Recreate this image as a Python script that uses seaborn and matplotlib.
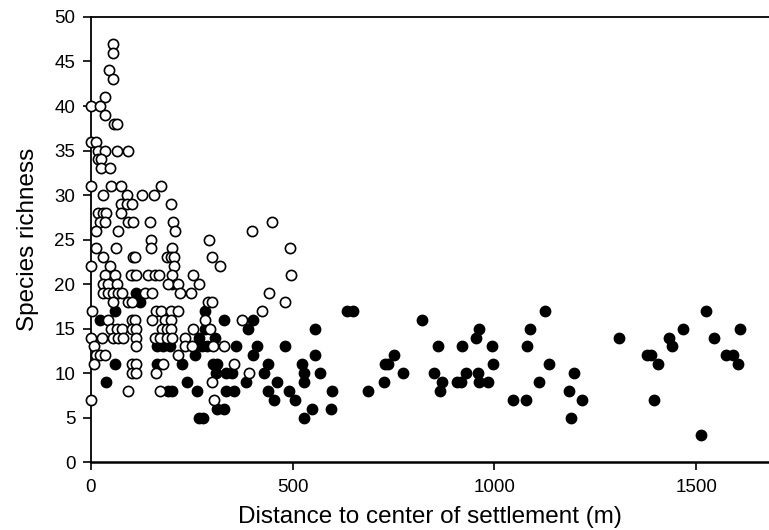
import numpy as np
import pandas as pd
import matplotlib
matplotlib.use("Agg")
import matplotlib.pyplot as plt
import seaborn as sns

# Open circles: distance (m) and species richness
open_x = [55, 55, 45, 55, 35, 0, 22, 35, 58, 65, 0, 12, 18, 35, 64, 93, 18, 25, 26, 47,
          0, 50, 76, 174, 31, 89, 128, 157, 76, 89, 101, 199, 18, 30, 39, 76,
          22, 35, 93, 105, 147, 204, 14, 68, 209, 149, 14, 62, 149, 202,
          31, 105, 109, 188, 199, 207, 0, 47, 207,
          35, 61, 100, 113, 142, 159, 170, 202, 254,
          31, 43, 64, 192, 217, 267,
          31, 43, 55, 68, 77, 134, 151, 221, 248,
          55, 93, 101,
          2, 161, 174, 200, 217,
          43, 101, 109, 151, 184, 200,
          51, 64, 78, 101, 113, 176, 188, 200, 254,
          0, 27, 55, 68, 80, 113, 159, 171, 188, 202, 233,
          8, 111, 233, 250,
          14, 22, 35, 215,
          8, 101, 113, 180,
          101, 113, 161,
          93, 171, 0,
          450, 400, 494, 496, 293, 300, 320, 441, 480, 424, 290, 301,
          374, 283, 296, 304, 329, 354, 392, 300, 306]
open_y = [47, 46, 44, 43, 41, 40, 40, 39, 38, 38, 36, 36, 35, 35, 35, 35, 34, 34, 33, 33,
          31, 31, 31, 31, 30, 30, 30, 30, 29, 29, 29, 29, 28, 28, 28, 28,
          27, 27, 27, 27, 27, 27, 26, 26, 26, 25, 24, 24, 24, 24,
          23, 23, 23, 23, 23, 23, 22, 22, 22,
          21, 21, 21, 21, 21, 21, 21, 21, 21,
          20, 20, 20, 20, 20, 20,
          19, 19, 19, 19, 19, 19, 19, 19, 19,
          18, 18, 18,
          17, 17, 17, 17, 17,
          16, 16, 16, 16, 16, 16,
          15, 15, 15, 15, 15, 15, 15, 15, 15,
          14, 14, 14, 14, 14, 14, 14, 14, 14, 14, 14,
          13, 13, 13, 13,
          12, 12, 12, 12,
          11, 11, 11, 11,
          10, 10, 10,
          8, 8, 7,
          27, 26, 24, 21, 25, 23, 22, 19, 18, 17, 18, 18,
          16, 16, 15, 13, 13, 11, 10, 9, 7]

# Filled circles: distance (m) and species richness
filled_x = [105, 202, 113, 122, 60, 22, 163, 180, 196, 61, 163, 227, 39, 238, 192, 202,
            267, 283, 329, 403, 389, 283, 308, 555, 258, 276, 287, 359, 411, 401, 480,
            555, 258, 304, 312, 440, 523, 310, 335, 349, 428, 527, 567, 384, 461, 527,
            262, 335, 356, 439, 490, 598, 455, 507, 312, 329, 547, 596, 527, 267, 279,
            635, 650, 820, 961, 954, 859, 919, 993, 751, 730, 736, 997, 774, 849, 929,
            958, 687, 726, 871, 865, 908, 918, 962, 983,
            1126, 1087, 1081, 1136, 1111, 1045, 1077, 1198, 1185, 1218, 1190, 1308,
            1377, 1388, 1404, 1395, 1432, 1439, 1467, 1511, 1524, 1545, 1573, 1591,
            1602, 1608]
filled_y = [21, 20, 19, 18, 17, 16, 13, 13, 13, 11, 11, 11, 9, 9, 8, 8,
            14, 17, 16, 16, 15, 15, 14, 15, 13, 13, 13, 13, 13, 12, 13,
            12, 12, 11, 11, 11, 11, 10, 10, 10, 10, 10, 10, 9, 9, 9,
            8, 8, 8, 8, 8, 8, 7, 7, 6, 6, 6, 6, 5, 5, 5,
            17, 17, 16, 15, 14, 13, 13, 13, 12, 11, 11, 11, 10, 10, 10,
            10, 8, 9, 9, 8, 9, 9, 9, 9,
            17, 15, 13, 11, 9, 7, 7, 10, 8, 7, 5, 14,
            12, 12, 11, 7, 14, 13, 15, 3, 17, 14, 12, 12,
            11, 15]

x_ticks = [0, 500, 1000, 1500]
y_ticks = [0, 5, 10, 15, 20, 25, 30, 35, 40, 45, 50]

sns.set_style("ticks")
plt.rcParams['font.family'] = ['Liberation Sans', 'DejaVu Sans']
plt.rcParams['text.color'] = 'black'
plt.rcParams['axes.labelcolor'] = 'black'

fig = plt.figure(figsize=(7.69, 5.30), dpi=100)
ax = fig.add_axes([0.118, 0.128, 0.882, 0.84])

df_f = pd.DataFrame({"x": filled_x, "y": filled_y})
df_o = pd.DataFrame({"x": open_x, "y": open_y})

sns.scatterplot(data=df_f, x="x", y="y", ax=ax, s=56, color="black",
                edgecolor="black", linewidth=1.0, zorder=3, clip_on=False)
sns.scatterplot(data=df_o, x="x", y="y", ax=ax, s=54, facecolor="white",
                edgecolor="black", linewidth=1.2, zorder=4, clip_on=False)

ax.set_xlim(0, 1680)
ax.set_ylim(0, 50)
ax.set_xticks(x_ticks)
ax.set_yticks(y_ticks)
ax.set_xticklabels([str(t) for t in x_ticks])
ax.set_yticklabels([str(t) for t in y_ticks])
ax.tick_params(axis="both", direction="out", length=6, width=1.2, labelsize=13.5,
               colors="black", labelcolor="black", pad=5)
ax.tick_params(axis="x", pad=6)
for side in ["left", "bottom", "top"]:
    ax.spines[side].set_visible(True)
    ax.spines[side].set_color("black")
ax.spines["left"].set_linewidth(1.3)
ax.spines["bottom"].set_linewidth(1.8)
ax.spines["top"].set_linewidth(1.3)
ax.spines["right"].set_visible(False)

ax.set_xlabel("Distance to center of settlement (m)", fontsize=17.5, labelpad=7,
              color="black")
ax.set_ylabel("Species richness", fontsize=17.5, labelpad=11, color="black")

fig.savefig("out.png", dpi=100)
